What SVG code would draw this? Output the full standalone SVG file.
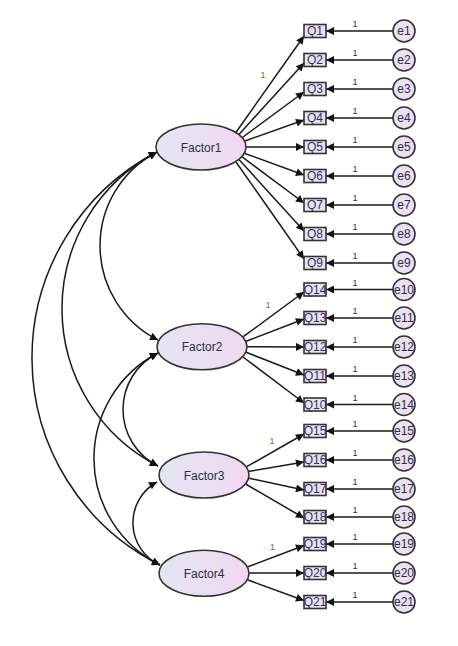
<svg xmlns="http://www.w3.org/2000/svg" width="458" height="646" viewBox="0 0 458 646">
<defs>
<linearGradient id="gf" x1="0" y1="0" x2="1" y2="0">
<stop offset="0" stop-color="#e3e6f1"/>
<stop offset="1" stop-color="#f1d8f1"/>
</linearGradient>
<linearGradient id="gb" x1="0" y1="0" x2="1" y2="0">
<stop offset="0" stop-color="#e6e6f2"/>
<stop offset="1" stop-color="#f0dcf0"/>
</linearGradient>
<marker id="ah" viewBox="0 0 10 10" refX="10" refY="5" markerWidth="10" markerHeight="8" orient="auto-start-reverse" markerUnits="userSpaceOnUse">
<path d="M0,0 L10,5 L0,10 z" fill="#111"/>
</marker>
</defs>
<style>
.fac ellipse{fill:url(#gf);stroke:#333;stroke-width:1.6}
.fac text{font-family:"Liberation Sans",Arial,sans-serif;font-size:12px;fill:#2a2e48;text-anchor:middle}
.obs rect{fill:url(#gb);stroke:#333;stroke-width:1.6}
.obs text{font-family:"Liberation Sans",Arial,sans-serif;font-size:12px;fill:#2a3358;text-anchor:middle}
.err circle{fill:url(#gb);stroke:#333;stroke-width:1.6}
.err text{font-family:"Liberation Sans",Arial,sans-serif;font-size:12px;fill:#2a2e48;text-anchor:middle}
#connectors path{fill:none;stroke:#1a1a1a;stroke-width:1.5}
.ar{marker-end:url(#ah)}
.cov{marker-start:url(#ah);marker-end:url(#ah)}
.w{font-family:"Liberation Sans",Arial,sans-serif;font-size:9px;fill:#333;text-anchor:middle}
.wf{font-family:"Liberation Sans",Arial,sans-serif;font-size:9px;fill:#7d6e30;text-anchor:middle}
</style>

<g id="connectors">
<path class="cov" d="M157,152 A105.6,105.6 0 0 0 158,340"/>
<path class="cov" d="M157,152 A176.8,176.8 0 0 0 158,466"/>
<path class="cov" d="M157,152 A231.8,231.8 0 0 0 160,565"/>
<path class="cov" d="M158,353 A63.1,63.1 0 0 0 158,466"/>
<path class="cov" d="M158,353 A118.9,118.9 0 0 0 160,565"/>
<path class="cov" d="M157,482 A46.5,46.5 0 0 0 160,565"/>
<path class="ar" d="M235.5,133 L304,36"/>
<path class="ar" d="M238,135.5 L304,63"/>
<path class="ar" d="M241,138.5 L304,92"/>
<path class="ar" d="M243.5,141.5 L304,120"/>
<path class="ar" d="M246,147 L304,147"/>
<path class="ar" d="M243.5,153 L304,175"/>
<path class="ar" d="M241,156 L304,203"/>
<path class="ar" d="M238.5,159 L304,231"/>
<path class="ar" d="M236,162 L304,259"/>
<path class="ar" d="M243.3,336.7 L304,292"/>
<path class="ar" d="M245.5,341.5 L304,319"/>
<path class="ar" d="M246.7,346.7 L304,347"/>
<path class="ar" d="M245.5,352 L304,375"/>
<path class="ar" d="M243,357 L304,403"/>
<path class="ar" d="M246.7,466.7 L304,434"/>
<path class="ar" d="M248,471.5 L304,462"/>
<path class="ar" d="M248,478 L304,490"/>
<path class="ar" d="M245.5,484 L304,518"/>
<path class="ar" d="M247.3,567 L304,545.5"/>
<path class="ar" d="M248.3,573 L304,573"/>
<path class="ar" d="M246.7,579.5 L304,600.5"/>
<path class="ar" d="M393,31 L326,31"/>
<path class="ar" d="M393,60 L326,60"/>
<path class="ar" d="M393,89 L326,89"/>
<path class="ar" d="M393,118 L326,118"/>
<path class="ar" d="M393,147 L326,147"/>
<path class="ar" d="M393,176 L326,176"/>
<path class="ar" d="M393,205 L326,205"/>
<path class="ar" d="M393,234 L326,234"/>
<path class="ar" d="M393,263 L326,263"/>
<path class="ar" d="M393,289.5 L326,289.5"/>
<path class="ar" d="M393,318 L326,318"/>
<path class="ar" d="M393,347 L326,347"/>
<path class="ar" d="M393,376 L326,376"/>
<path class="ar" d="M393,404.5 L326,404.5"/>
<path class="ar" d="M393,431 L326,431"/>
<path class="ar" d="M393,460 L326,460"/>
<path class="ar" d="M393,489 L326,489"/>
<path class="ar" d="M393,517 L326,517"/>
<path class="ar" d="M393,544 L326,544"/>
<path class="ar" d="M393,573 L326,573"/>
<path class="ar" d="M393,602 L326,602"/>
<text class="wf" x="263" y="78">1</text>
<text class="wf" x="268" y="307.5">1</text>
<text class="wf" x="272" y="443.5">1</text>
<text class="wf" x="272.5" y="550">1</text>
<text class="w" x="355" y="27">1</text>
<text class="w" x="355" y="56">1</text>
<text class="w" x="355" y="85">1</text>
<text class="w" x="355" y="114">1</text>
<text class="w" x="355" y="143">1</text>
<text class="w" x="355" y="172">1</text>
<text class="w" x="355" y="201">1</text>
<text class="w" x="355" y="230">1</text>
<text class="w" x="355" y="259">1</text>
<text class="w" x="355" y="285.5">1</text>
<text class="w" x="355" y="314">1</text>
<text class="w" x="355" y="343">1</text>
<text class="w" x="355" y="372">1</text>
<text class="w" x="355" y="400.5">1</text>
<text class="w" x="355" y="427">1</text>
<text class="w" x="355" y="456">1</text>
<text class="w" x="355" y="485">1</text>
<text class="w" x="355" y="513">1</text>
<text class="w" x="355" y="540">1</text>
<text class="w" x="355" y="569">1</text>
<text class="w" x="355" y="598">1</text>
</g>

<g id="Factor1" class="fac"><ellipse cx="201" cy="147" rx="45" ry="23"/><text x="201" y="151.5">Factor1</text></g>
<g id="Factor2" class="fac"><ellipse cx="202" cy="346.7" rx="45" ry="23"/><text x="202" y="351">Factor2</text></g>
<g id="Factor3" class="fac"><ellipse cx="204" cy="475" rx="45" ry="23"/><text x="204" y="479.5">Factor3</text></g>
<g id="Factor4" class="fac"><ellipse cx="204" cy="573.3" rx="45" ry="23"/><text x="204" y="578">Factor4</text></g>

<g id="Q1" class="obs"><rect x="304" y="24.5" width="22" height="13"/><text x="315" y="35.3">Q1</text></g>
<g id="Q2" class="obs"><rect x="304" y="53.5" width="22" height="13"/><text x="315" y="64.3">Q2</text></g>
<g id="Q3" class="obs"><rect x="304" y="82.5" width="22" height="13"/><text x="315" y="93.3">Q3</text></g>
<g id="Q4" class="obs"><rect x="304" y="111.5" width="22" height="13"/><text x="315" y="122.3">Q4</text></g>
<g id="Q5" class="obs"><rect x="304" y="140.5" width="22" height="13"/><text x="315" y="151.3">Q5</text></g>
<g id="Q6" class="obs"><rect x="304" y="169.5" width="22" height="13"/><text x="315" y="180.3">Q6</text></g>
<g id="Q7" class="obs"><rect x="304" y="198.5" width="22" height="13"/><text x="315" y="209.3">Q7</text></g>
<g id="Q8" class="obs"><rect x="304" y="227.5" width="22" height="13"/><text x="315" y="238.3">Q8</text></g>
<g id="Q9" class="obs"><rect x="304" y="256.5" width="22" height="13"/><text x="315" y="267.3">Q9</text></g>
<g id="Q14" class="obs"><rect x="304" y="283" width="22" height="13"/><text x="315" y="293.8">Q14</text></g>
<g id="Q13" class="obs"><rect x="304" y="311.5" width="22" height="13"/><text x="315" y="322.3">Q13</text></g>
<g id="Q12" class="obs"><rect x="304" y="340.5" width="22" height="13"/><text x="315" y="351.3">Q12</text></g>
<g id="Q11" class="obs"><rect x="304" y="369.5" width="22" height="13"/><text x="315" y="380.3">Q11</text></g>
<g id="Q10" class="obs"><rect x="304" y="398" width="22" height="13"/><text x="315" y="408.8">Q10</text></g>
<g id="Q15" class="obs"><rect x="304" y="424.5" width="22" height="13"/><text x="315" y="435.3">Q15</text></g>
<g id="Q16" class="obs"><rect x="304" y="453.5" width="22" height="13"/><text x="315" y="464.3">Q16</text></g>
<g id="Q17" class="obs"><rect x="304" y="482.5" width="22" height="13"/><text x="315" y="493.3">Q17</text></g>
<g id="Q18" class="obs"><rect x="304" y="510.5" width="22" height="13"/><text x="315" y="521.3">Q18</text></g>
<g id="Q19" class="obs"><rect x="304" y="537.5" width="22" height="13"/><text x="315" y="548.3">Q19</text></g>
<g id="Q20" class="obs"><rect x="304" y="566.5" width="22" height="13"/><text x="315" y="577.3">Q20</text></g>
<g id="Q21" class="obs"><rect x="304" y="595.5" width="22" height="13"/><text x="315" y="606.3">Q21</text></g>

<g id="e1" class="err"><circle cx="404" cy="31" r="11"/><text x="404" y="35.3">e1</text></g>
<g id="e2" class="err"><circle cx="404" cy="60" r="11"/><text x="404" y="64.3">e2</text></g>
<g id="e3" class="err"><circle cx="404" cy="89" r="11"/><text x="404" y="93.3">e3</text></g>
<g id="e4" class="err"><circle cx="404" cy="118" r="11"/><text x="404" y="122.3">e4</text></g>
<g id="e5" class="err"><circle cx="404" cy="147" r="11"/><text x="404" y="151.3">e5</text></g>
<g id="e6" class="err"><circle cx="404" cy="176" r="11"/><text x="404" y="180.3">e6</text></g>
<g id="e7" class="err"><circle cx="404" cy="205" r="11"/><text x="404" y="209.3">e7</text></g>
<g id="e8" class="err"><circle cx="404" cy="234" r="11"/><text x="404" y="238.3">e8</text></g>
<g id="e9" class="err"><circle cx="404" cy="263" r="11"/><text x="404" y="267.3">e9</text></g>
<g id="e10" class="err"><circle cx="404" cy="289.5" r="11"/><text x="404" y="293.8">e10</text></g>
<g id="e11" class="err"><circle cx="404" cy="318" r="11"/><text x="404" y="322.3">e11</text></g>
<g id="e12" class="err"><circle cx="404" cy="347" r="11"/><text x="404" y="351.3">e12</text></g>
<g id="e13" class="err"><circle cx="404" cy="376" r="11"/><text x="404" y="380.3">e13</text></g>
<g id="e14" class="err"><circle cx="404" cy="404.5" r="11"/><text x="404" y="408.8">e14</text></g>
<g id="e15" class="err"><circle cx="404" cy="431" r="11"/><text x="404" y="435.3">e15</text></g>
<g id="e16" class="err"><circle cx="404" cy="460" r="11"/><text x="404" y="464.3">e16</text></g>
<g id="e17" class="err"><circle cx="404" cy="489" r="11"/><text x="404" y="493.3">e17</text></g>
<g id="e18" class="err"><circle cx="404" cy="517" r="11"/><text x="404" y="521.3">e18</text></g>
<g id="e19" class="err"><circle cx="404" cy="544" r="11"/><text x="404" y="548.3">e19</text></g>
<g id="e20" class="err"><circle cx="404" cy="573" r="11"/><text x="404" y="577.3">e20</text></g>
<g id="e21" class="err"><circle cx="404" cy="602" r="11"/><text x="404" y="606.3">e21</text></g>
</svg>
